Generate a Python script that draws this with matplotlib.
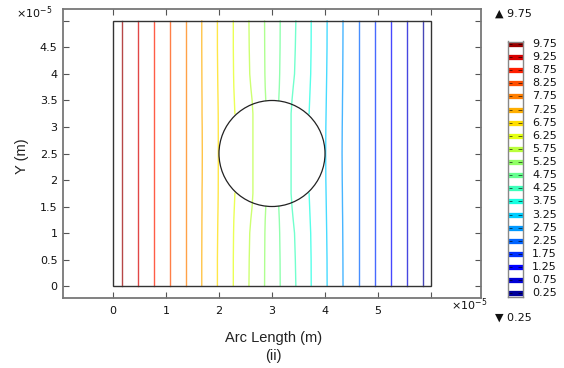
import matplotlib
matplotlib.use("Agg")
import matplotlib.pyplot as plt
from matplotlib.patches import Circle, Rectangle

NA = float("nan")   # line not present (stops at the circle)

# contour levels (V) and where each line sits far from the hole (x, in 1e-5 m)
LEVELS = [0.25, 0.75, 1.25, 1.75, 2.25, 2.75, 3.25, 3.75, 4.25, 4.75,
          5.25, 5.75, 6.25, 6.75, 7.25, 7.75, 8.25, 8.75, 9.25, 9.75]
X_FAR = [5.855, 5.54, 5.24, 4.94, 4.64, 4.34, 4.04, 3.74, 3.45, 3.155,
         2.86, 2.565, 2.27, 1.97, 1.675, 1.375, 1.075, 0.77, 0.465, 0.165]

# lines that bend near the circle: x read at these heights (1e-5 m)
Y_ROWS = [0, 0.5, 1.0, 1.25, 1.5, 1.75, 2.0, 2.5, 3.0, 3.25, 3.5, 3.75, 4.0, 4.5, 5.0]
X_BENT = {
    7.25: [1.675, 1.675, 1.677, 1.678, 1.68, 1.68, 1.683, 1.685, 1.683, 1.68, 1.68, 1.678, 1.677, 1.675, 1.675],
    6.75: [1.97, 1.97, 1.975, 1.978, 1.982, 1.985, 1.986, 1.987, 1.986, 1.985, 1.982, 1.978, 1.975, 1.97, 1.97],
    6.25: [2.27, 2.27, 2.275, 2.28, 2.29, 2.30, NA, NA, NA, 2.30, 2.29, 2.28, 2.275, 2.27, 2.27],
    5.75: [2.565, 2.57, 2.58, 2.60, 2.625, 2.64, 2.64, 2.64, 2.64, 2.64, 2.625, 2.60, 2.58, 2.57, 2.565],
    5.25: [2.86, 2.862, 2.866, 2.872, 2.883, NA, NA, NA, NA, NA, 2.883, 2.872, 2.866, 2.862, 2.86],
    4.75: [3.155, 3.152, 3.145, 3.138, 3.127, NA, NA, NA, NA, NA, 3.127, 3.138, 3.145, 3.152, 3.155],
    4.25: [3.45, 3.44, 3.425, 3.40, 3.377, 3.36, 3.36, 3.36, 3.36, 3.36, 3.377, 3.40, 3.425, 3.44, 3.45],
    3.75: [3.74, 3.738, 3.73, 3.72, 3.71, 3.70, NA, NA, NA, 3.70, 3.71, 3.72, 3.73, 3.738, 3.74],
    3.25: [4.04, 4.038, 4.032, 4.028, 4.024, 4.02, 4.016, 4.013, 4.016, 4.02, 4.024, 4.028, 4.032, 4.038, 4.04],
    2.75: [4.34, 4.338, 4.335, 4.333, 4.33, 4.328, 4.325, 4.322, 4.325, 4.328, 4.33, 4.333, 4.335, 4.338, 4.34],
}

DOMAIN = (6.0, 5.0)
HOLE_C, HOLE_R = (3.0, 2.5), 1.0

X_TICKS = [0, 1, 2, 3, 4, 5, 6]
X_TICKLABELS = ["0", "1", "2", "3", "4", "5", ""]
Y_TICKS = [0, 0.5, 1, 1.5, 2, 2.5, 3, 3.5, 4, 4.5, 5]
Y_TICKLABELS = ["0", "0.5", "1", "1.5", "2", "2.5", "3", "3.5", "4", "4.5", ""]

cmap = plt.get_cmap("jet")
W, H = 564, 368

fig = plt.figure(figsize=(W / 100, H / 100), dpi=100)
ax = fig.add_axes([63 / W, 1 - 298 / H, (481 - 63) / W, (298 - 9) / H])

for lev, xf in zip(LEVELS, X_FAR):
    if lev in X_BENT:
        xs, ys = X_BENT[lev], Y_ROWS
    else:
        xs, ys = [xf, xf], [0, DOMAIN[1]]
    ax.plot(xs, ys, color=cmap(lev / 10), lw=1.0, alpha=0.72, zorder=2)

ax.add_patch(Circle(HOLE_C, HOLE_R, fill=False, edgecolor="#222222", lw=0.9, zorder=5))
ax.add_patch(Rectangle((0, 0), DOMAIN[0], DOMAIN[1], fill=False,
                       edgecolor="#333333", lw=1.0, zorder=5))

ax.set_xlim(-0.943, 6.943)
ax.set_ylim(-0.226, 5.226)
ax.set_xticks(X_TICKS)
ax.set_xticklabels(X_TICKLABELS)
ax.set_yticks(Y_TICKS)
ax.set_yticklabels(Y_TICKLABELS)
ax.tick_params(direction="in", length=4, width=0.8, color="#555555",
               top=True, right=True, labelsize=8, labelcolor="#111111")
ax.tick_params(axis="x", pad=6)
ax.tick_params(axis="y", pad=4)
for sp in ax.spines.values():
    sp.set_color("#777777")
    sp.set_linewidth(1.3)

# legend bar for the contour levels
cax = fig.add_axes([507.5 / W, 1 - 297 / H, 15.5 / W, (297 - 41.5) / H])
cax.set_xlim(0, 1)
cax.set_ylim(0.11, 9.84)
for lev in LEVELS:
    cax.plot([0, 1], [lev, lev], color=cmap(lev / 10), lw=3.8, solid_capstyle="butt")
    cax.plot([0.08, 0.3], [lev, lev], color="black", lw=0.7, alpha=0.6, solid_capstyle="butt")
    cax.plot([0.7, 0.92], [lev, lev], color="black", lw=0.7, alpha=0.6, solid_capstyle="butt")
    cax.text(1.6, lev, f"{lev:.2f}", va="center", ha="left", fontsize=8,
             color="#111111", transform=cax.transData, clip_on=False)
cax.set_xticks([])
cax.set_yticks([])
for sp in cax.spines.values():
    sp.set_color("#888888")
    sp.set_linewidth(1.0)

fig.text(495 / W, 1 - 14 / H, "\u25B2 9.75", fontsize=8, va="center", color="#111111")
fig.text(495 / W, 1 - 318 / H, "\u25BC 0.25", fontsize=8, va="center", color="#111111")

fig.text(16 / W, 1 - 13 / H, r"$\times10^{-5}$", fontsize=8, va="center", color="#111111")
fig.text(451 / W, 1 - 305 / H, r"$\times10^{-5}$", fontsize=8, va="center", color="#111111")

fig.text(22 / W, 1 - 156 / H, "Y (m)", rotation=90, ha="center", va="center",
         fontsize=10.5, family="Liberation Sans", color="#222222")
fig.text(274 / W, 1 - 338 / H, "Arc Length (m)", ha="center", va="center",
         fontsize=10.5, family="Liberation Sans", color="#222222")
fig.text(273 / W, 1 - 356 / H, "(ii)", ha="center", va="center",
         fontsize=10.5, family="Liberation Sans", color="#222222")

fig.savefig("out.png", dpi=100)
